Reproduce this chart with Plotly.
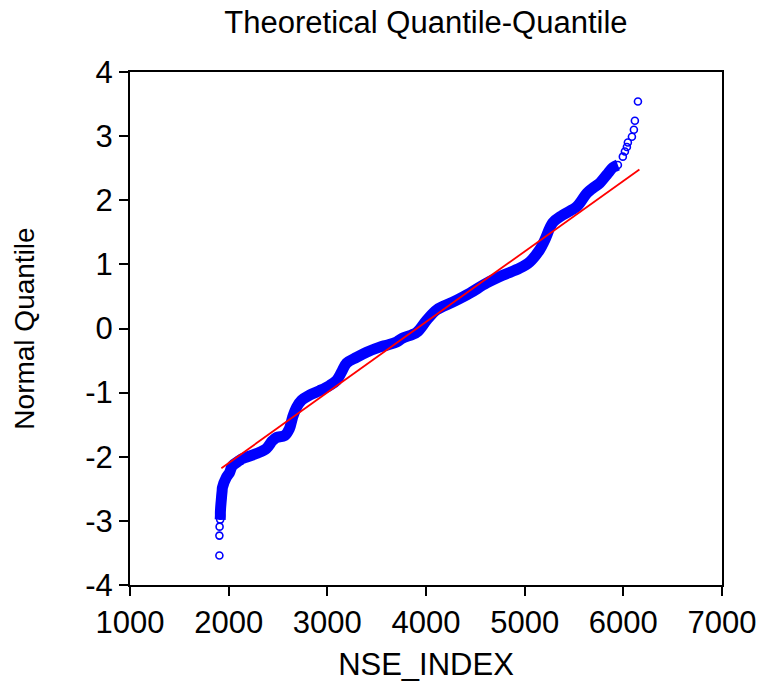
import plotly.graph_objects as go

# Sorted NSE_INDEX values (x) and their normal quantiles (y)
nse_index = [1906, 1906, 1908, 1914, 1916, 1916, 1918, 1922, 1926, 1930, 1934, 1937,
             1977, 2008, 2038, 2109, 2139, 2282, 2383, 2444, 2485, 2566, 2616, 2647,
             2688, 2739, 2820, 2921, 3022, 3093, 3144, 3195, 3296, 3398, 3530, 3601,
             3702, 3763, 3905, 4007, 4108, 4270, 4443, 4615, 4778, 4950, 5052, 5153,
             5204, 5285, 5386, 5528, 5630, 5691, 5762, 5833, 5894, 5945, 5995, 6016,
             6036, 6046, 6087, 6107, 6117, 6148]
normal_quantile = [-3.54, -3.23, -3.09, -2.98, -2.92, -2.87, -2.81, -2.73, -2.66, -2.59, -2.53, -2.48,
                   -2.32, -2.25, -2.14, -2.06, -2.03, -1.95, -1.87, -1.75, -1.70, -1.67, -1.56, -1.39,
                   -1.23, -1.12, -1.04, -0.97, -0.89, -0.81, -0.68, -0.54, -0.45, -0.37, -0.29, -0.26,
                   -0.21, -0.15, -0.06, 0.13, 0.29, 0.41, 0.55, 0.71, 0.83, 0.94, 1.04, 1.23,
                   1.38, 1.65, 1.77, 1.90, 2.11, 2.19, 2.27, 2.40, 2.51, 2.55, 2.68, 2.76,
                   2.83, 2.90, 2.99, 3.10, 3.24, 3.54]

# Theoretical reference line
fit_x = [1926, 6163]
fit_y = [-2.18, 2.48]

x_ticks = [1000, 2000, 3000, 4000, 5000, 6000, 7000]
y_ticks = [-4, -3, -2, -1, 0, 1, 2, 3, 4]

# dense part of the sample (markers overlap into a solid band)
core_start, core_end = 3, 58

FONT = "Liberation Sans, Arial, sans-serif"
BLUE = "#0000FF"

fig = go.Figure()
fig.add_trace(go.Scatter(
    x=nse_index[core_start:core_end], y=normal_quantile[core_start:core_end],
    mode="lines", line=dict(color=BLUE, width=11, shape="spline"),
    hoverinfo="skip", showlegend=False))
fig.add_trace(go.Scatter(
    x=nse_index, y=normal_quantile, mode="markers",
    marker=dict(symbol="circle-open", size=7, color=BLUE, line=dict(width=1.6, color=BLUE)),
    showlegend=False))
fig.add_trace(go.Scatter(
    x=fit_x, y=fit_y, mode="lines", line=dict(color="#FF0000", width=1.8),
    showlegend=False))

axis_common = dict(
    showline=True, linewidth=2, linecolor="black", mirror=True,
    ticks="outside", ticklen=9, tickwidth=2, tickcolor="black",
    showgrid=False, zeroline=False,
    tickfont=dict(family=FONT, size=31, color="black"),
)

fig.update_layout(
    width=762, height=682,
    margin=dict(l=130, r=40, t=72, b=97, autoexpand=False),
    plot_bgcolor="white", paper_bgcolor="white",
    title=dict(text="Theoretical Quantile-Quantile", x=0.559, xanchor="center",
               y=0.967, yanchor="middle",
               font=dict(family=FONT, size=31, color="black")),
    xaxis=dict(range=[1000, 7000], tickvals=x_ticks, ticktext=[str(v) for v in x_ticks],
               title=dict(text="NSE_INDEX", font=dict(family=FONT, size=31, color="black"), standoff=14),
               **axis_common),
    yaxis=dict(range=[-4, 4], tickvals=y_ticks, ticktext=[str(v) for v in y_ticks],
               title=dict(text="Normal Quantile", font=dict(family=FONT, size=28, color="black"), standoff=42),
               **axis_common),
)

fig.write_html("out.html")
